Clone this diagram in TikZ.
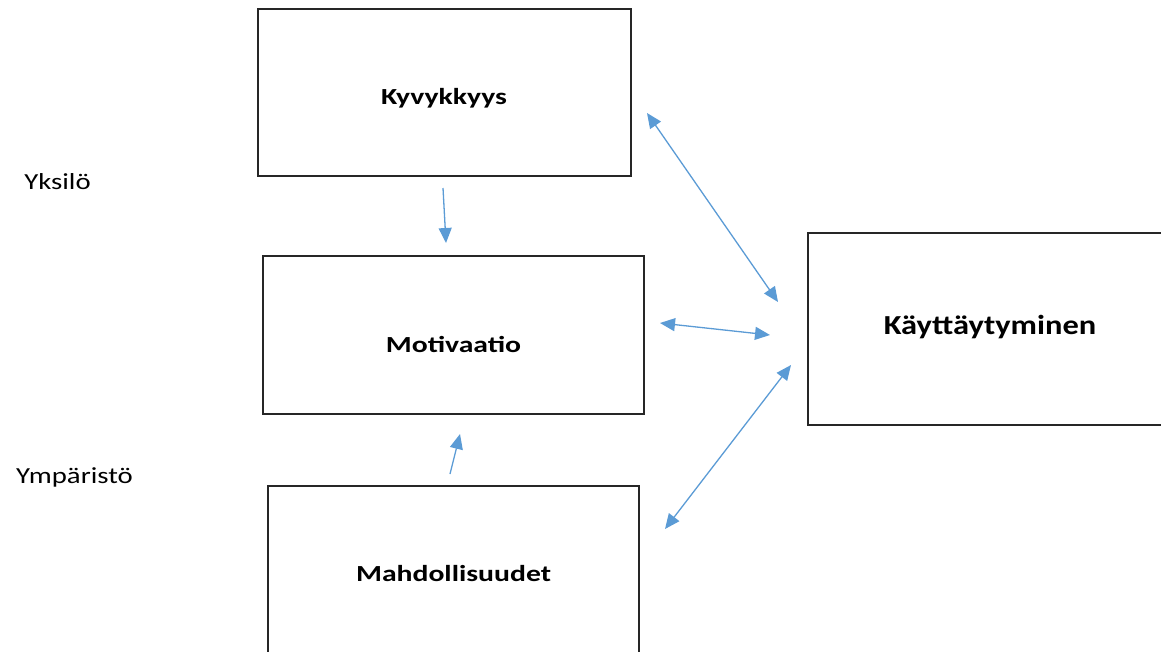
\documentclass[tikz,border=0pt]{standalone}
\usepackage{fontspec}
\setmainfont{Carlito}
\newfontfamily\boxfont[FakeStretch=1.29]{Carlito}
\newfontfamily\bigfont[FakeStretch=1.18]{Carlito}
\newfontfamily\sidefont[FakeStretch=1.25]{Carlito}
\usetikzlibrary{arrows.meta}
\definecolor{arrowblue}{HTML}{5B9BD5}
\begin{document}
\begin{tikzpicture}[x=1pt,y=-1pt,
  box/.style={draw=black!85,line width=1.4pt},
  lbl/.style={font=\boxfont\fontsize{23}{27}\selectfont\bfseries},
  biglbl/.style={font=\bigfont\fontsize{27.5}{32}\selectfont\bfseries},
  side/.style={font=\sidefont\fontsize{23}{27}\selectfont},
  link/.style={draw=arrowblue,line width=1.3pt,-{Triangle[length=15pt,width=13pt]}},
  dlink/.style={draw=arrowblue,line width=1.3pt,{Triangle[length=15pt,width=13pt]}-{Triangle[length=15pt,width=13pt]}}]
\useasboundingbox (0,0) rectangle (1161,651);
\clip (0,0) rectangle (1161,651);
% boxes
\draw[box] (258,9) rectangle (631,176);
\draw[box] (263,256) rectangle (644,414);
\draw[box] (268,486) rectangle (639,680);
\draw[box] (808,233) rectangle (1190,425);
% labels
\node[lbl] (kyv) at (444,98) {Kyvykkyys};
\node[lbl] (mot) at (453.5,344) {Motivaatio};
\node[lbl] (mah) at (453.5,574) {Mahdollisuudet};
\node[biglbl] (kay) at (990,327) {Käyttäytyminen};
\node[side] (yks) at (57.5,182) {Yksilö};
\node[side] (ymp) at (74.5,477) {Ympäristö};
% connector end points
\coordinate (a1s) at (443,188); \coordinate (a1e) at (446,243);
\coordinate (a2s) at (450,474); \coordinate (a2e) at (460,434);
\coordinate (b1s) at (647,113); \coordinate (b1e) at (778,302);
\coordinate (b2s) at (660,323); \coordinate (b2e) at (770,335);
\coordinate (b3s) at (665,529); \coordinate (b3e) at (791,365);
\draw[link] (a1s) -- (a1e);
\draw[link] (a2s) -- (a2e);
\draw[dlink] (b1s) -- (b1e);
\draw[dlink] (b2s) -- (b2e);
\draw[dlink] (b3s) -- (b3e);
\end{tikzpicture}
\end{document}
